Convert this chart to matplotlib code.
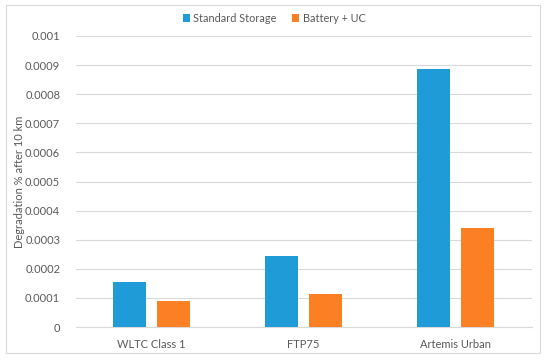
import numpy as np
import matplotlib.pyplot as plt
from matplotlib.patches import Rectangle

plt.rcParams['font.family'] = ['Lato', 'DejaVu Sans']

cycles = ["WLTC Class 1", "FTP75", "Artemis Urban"]
standard = [0.000155, 0.000245, 0.000888]
battery_uc = [0.000090, 0.000113, 0.000339]
yticks = [0, 0.0001, 0.0002, 0.0003, 0.0004, 0.0005, 0.0006, 0.0007, 0.0008, 0.0009, 0.001]
ytick_labels = ["0", "0.0001", "0.0002", "0.0003", "0.0004", "0.0005",
                "0.0006", "0.0007", "0.0008", "0.0009", "0.001"]

blue = "#1f9bd7"
orange = "#fd7f23"
txt = "#595959"

fig = plt.figure(figsize=(5.5, 3.6), dpi=100)
ax = fig.add_axes([75.5 / 550, 33 / 360, 456 / 550, 291 / 360])

x = np.arange(len(cycles))
w = 0.22
ax.bar(x - 0.145, standard, w, color=blue, label="Standard Storage", zorder=3)
ax.bar(x + 0.145, battery_uc, w, color=orange, label="Battery + UC", zorder=3)

ax.set_xlim(-0.5, 2.5)
ax.set_ylim(0, 0.001)
ax.set_yticks(yticks)
ax.set_yticklabels(ytick_labels)
ax.set_xticks(x)
ax.set_xticklabels(cycles)
ax.yaxis.grid(True, color="#d9d9d9", linewidth=0.8, zorder=0)
for s in ["top", "right", "left"]:
    ax.spines[s].set_visible(False)
ax.spines["bottom"].set_color("#d9d9d9")
ax.tick_params(axis="y", length=0, colors=txt, labelsize=8, pad=11)
ax.tick_params(axis="x", length=0, colors=txt, labelsize=8, pad=9)
ax.set_ylabel("Degradation % after 10 km", color=txt, fontsize=8)
ax.yaxis.set_label_coords(-50 / 456, 0.5)

ax.legend(loc="center", bbox_to_anchor=(274 / 550, 1 - 18 / 360), bbox_transform=fig.transFigure,
          ncol=2, frameon=False, fontsize=7.8, labelcolor=txt, handlelength=0.7, handleheight=0.7,
          columnspacing=1.4, handletextpad=0.3, borderpad=0)

fig.patches.append(Rectangle((6 / 550, 7 / 360), 534 / 550, 348 / 360, transform=fig.transFigure,
                             fill=False, edgecolor="#d9d9d9", linewidth=0.8))

fig.savefig("out.png", dpi=100)
